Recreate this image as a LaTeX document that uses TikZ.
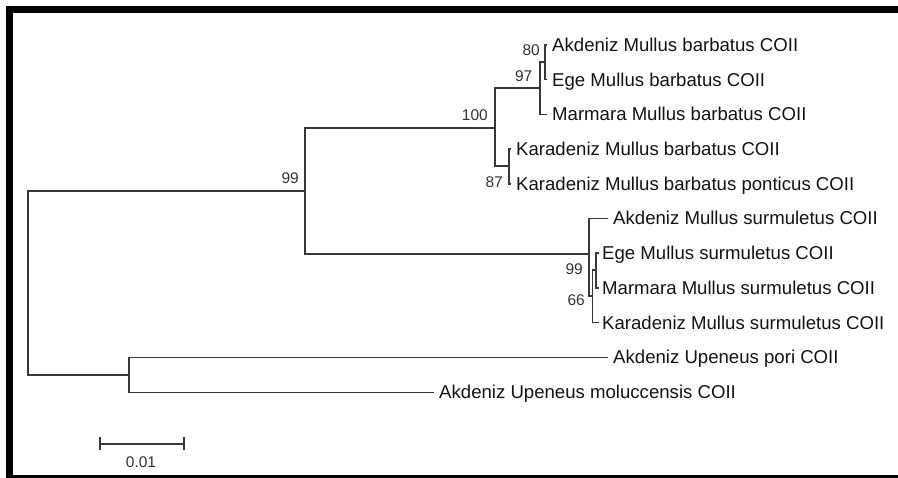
\documentclass[tikz,border=0pt]{standalone}
\usepackage{fontspec}
\setmainfont{Liberation Sans}
\begin{document}
\begin{tikzpicture}[x=1pt,y=-1pt,
  branch/.style={draw=black!78, line width=1.6pt},
  taxon/.style={anchor=west, inner xsep=5pt, inner ysep=0pt, text height=13pt, text depth=0pt,
                font=\fontsize{18.6}{20}\selectfont, text=black!92},
  boot/.style={anchor=east, inner sep=0pt, text height=11pt, text depth=0pt,
               font=\fontsize{15.5}{17}\selectfont, text=black!80}]
% canvas and frame
\useasboundingbox (0,0) rectangle (898,478);
\fill[white] (0,0) rectangle (898,478);
\fill[black] (6,6) rectangle (898,13);
\fill[black] (6,6) rectangle (13,478);
\fill[black] (6,475) rectangle (898,478);

% internal nodes
\coordinate (root)  at (28,283);
\coordinate (n99a)  at (305,191);
\coordinate (n100)  at (495,128);
\coordinate (n97)   at (540,88);
\coordinate (n80)   at (545,62);
\coordinate (n87)   at (509,166);
\coordinate (sroot) at (589,254);
\coordinate (n66)   at (592.5,296);
\coordinate (n99b)  at (596,270);
\coordinate (nup)   at (129,375);

% taxa
\node[taxon] (bAk) at (547,45)    {Akdeniz Mullus barbatus COII};
\node[taxon] (bEg) at (547,79.7)  {Ege Mullus barbatus COII};
\node[taxon] (bMa) at (547,114.4) {Marmara Mullus barbatus COII};
\node[taxon] (bKa) at (511,149.1) {Karadeniz Mullus barbatus COII};
\node[taxon] (bKp) at (511,183.8) {Karadeniz Mullus barbatus ponticus COII};
\node[taxon] (sAk) at (608,218.5) {Akdeniz Mullus surmuletus COII};
\node[taxon, inner xsep=3pt] (sEg) at (599,253.2) {Ege Mullus surmuletus COII};
\node[taxon, inner xsep=3pt] (sMa) at (599,287.9) {Marmara Mullus surmuletus COII};
\node[taxon, inner xsep=3pt] (sKa) at (599,322.6) {Karadeniz Mullus surmuletus COII};
\node[taxon] (uPo) at (608,357.5) {Akdeniz Upeneus pori COII};
\node[taxon] (uMo) at (434,392.5) {Akdeniz Upeneus moluccensis COII};

% branches
\draw[branch] (root) |- (n99a);
\draw[branch] (root) |- (nup);
\draw[branch] (n99a) |- (n100);
\draw[branch] (n99a) |- (sroot);
\draw[branch] (n100) |- (n97);
\draw[branch] (n100) |- (n87);
\draw[branch] (n97) |- (n80);
\draw[branch] (n97) |- (bMa.west);
\draw[branch] (n80) |- (bAk.west);
\draw[branch] (n80) |- (bEg.west);
\draw[branch] (n87) |- (bKa.west);
\draw[branch] (n87) |- (bKp.west);
\draw[branch] (sroot) |- (sAk.west);
\draw[branch] (sroot) |- (n66);
\draw[branch] (n66) |- (n99b);
\draw[branch] (n66) |- (sKa.west);
\draw[branch] (n99b) |- (sEg.west);
\draw[branch] (n99b) |- (sMa.west);
\draw[branch] (nup) |- (uPo.west);
\draw[branch] (nup) |- (uMo.west);

% bootstrap values
\node[boot] (l99a) at (299,178)   {99};
\node[boot] (l100) at (488,115.5) {100};
\node[boot] (l97)  at (532.5,76)  {97};
\node[boot] (l80)  at (540,50)    {80};
\node[boot] (l87)  at (503,182)   {87};
\node[boot] (l99b) at (583,269)   {99};
\node[boot] (l66)  at (585,300)   {66};

% scale bar
\coordinate (sbL) at (100,444);
\coordinate (sbR) at (184,444);
\draw[branch] (sbL) -- (sbR);
\draw[branch] ([yshift=6.5pt]sbL) -- ([yshift=-6.5pt]sbL);
\draw[branch] ([yshift=6.5pt]sbR) -- ([yshift=-6.5pt]sbR);
\node[boot, anchor=center] (sbT) at (141,462) {0.01};
\end{tikzpicture}
\end{document}
